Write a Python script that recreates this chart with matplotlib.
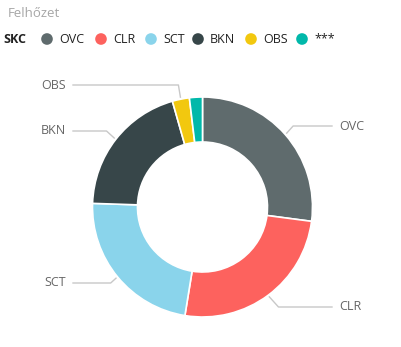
import numpy as np
import matplotlib
matplotlib.use("Agg")
from matplotlib import pyplot as plt

categories = ["OVC", "CLR", "SCT", "BKN", "OBS", "***"]
values = [27.0, 25.4, 22.9, 20.0, 2.5, 1.9]
colors = ["#5F6B6D", "#FD625E", "#8AD4EB", "#374649", "#F2C80F", "#01B8AA"]
legend_title = "SKC"
title = "Felhőzet"

W, H = 402, 347
plt.rcParams['font.family'] = ['Open Sans', 'DejaVu Sans']

fig = plt.figure(figsize=(W / 100, H / 100), dpi=100)
ax = fig.add_axes([0, 0, 1, 1])
ax.set_xlim(0, W)
ax.set_ylim(0, H)
ax.set_aspect('equal')
ax.axis('off')


def py(y):
    # pixel row (from top) -> data y
    return H - y


cx, cy, R = 202.5, py(207), 110
wedges, _ = ax.pie(values, colors=colors, startangle=90, counterclock=False,
                   radius=R, center=(cx, cy), frame=True,
                   wedgeprops=dict(width=45, edgecolor='white', linewidth=1.2))
ax.set_xlim(0, W)
ax.set_ylim(0, H)
ax.axis('off')

# label layout: (side, label y in px, elbow x for horizontal part)
label_layout = {
    "OVC": ("r", 126),
    "CLR": ("r", 307),
    "SCT": ("l", 283),
    "BKN": ("l", 131),
    "OBS": ("l", 85),
}
line_col = "#C8C8C8"
text_col = "#666666"
for w, cat in zip(wedges, categories):
    if cat not in label_layout:
        continue
    side, ly = label_layout[cat]
    ang = np.deg2rad((w.theta1 + w.theta2) / 2)
    x0 = cx + (R + 2) * np.cos(ang)
    y0 = cy + (R + 2) * np.sin(ang)
    ly = py(ly)
    # elbow: move diagonally to label row
    dy = ly - y0
    if side == "r":
        ex = x0 + abs(dy) * 0.9 if cat != "OBS" else x0
        ax.plot([x0, ex, 332], [y0, ly, ly], color=line_col, lw=1)
        ax.text(339, ly, cat, ha='left', va='center', fontsize=9, color=text_col)
    else:
        ex = x0 - abs(dy) * 1.1 if cat != "OBS" else x0 - 2
        ax.plot([x0, ex, 73], [y0, ly, ly], color=line_col, lw=1)
        ax.text(66, ly, cat, ha='right', va='center', fontsize=9, color=text_col)

# title and legend
ax.text(8, py(13), title, ha='left', va='center', fontsize=9.5, color="#A6A6A6")
ax.text(3, py(39), legend_title, ha='left', va='center', fontsize=9,
        fontweight='bold', color="#222222")
leg_x = [47, 101, 151, 198, 251, 302]
for x, cat, c in zip(leg_x, categories, colors):
    ax.scatter([x], [py(39)], s=70, color=c, edgecolors='none')
    ax.text(x + 12, py(39), cat, ha='left', va='center', fontsize=9,
            color="#222222")

fig.savefig("out.png", dpi=100)
